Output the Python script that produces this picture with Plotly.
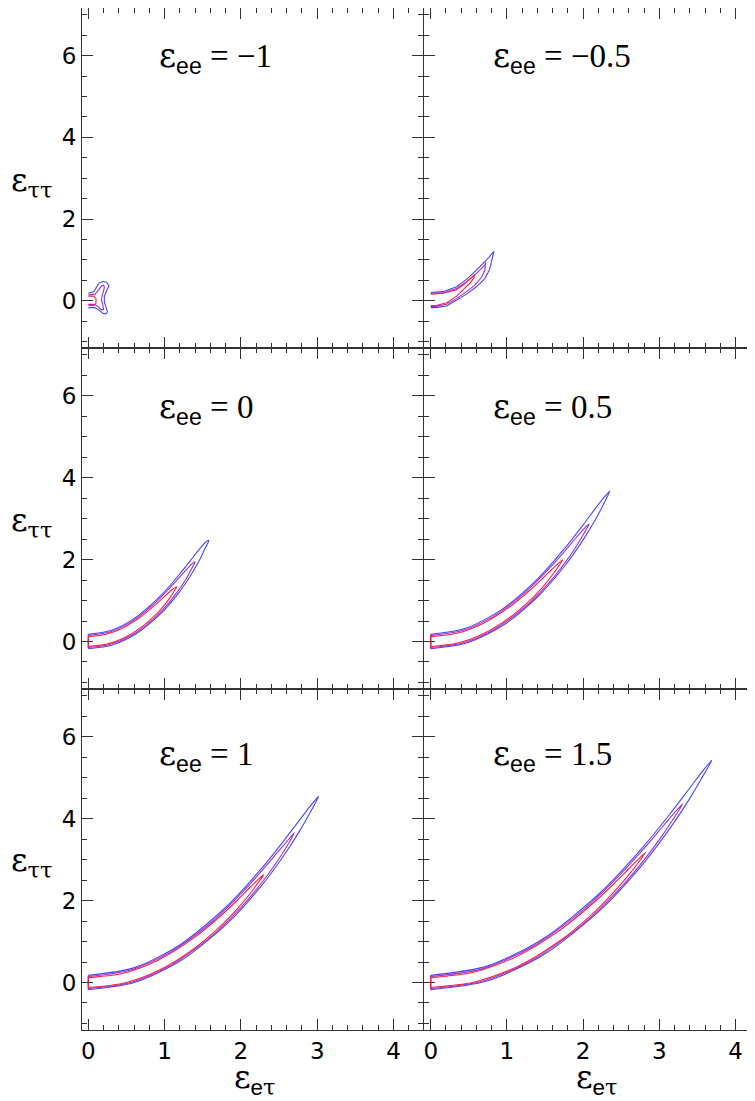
import plotly.graph_objects as go

# ---------------- data ----------------
EE_LABELS = ["\u22121", "\u22120.5", "0", "0.5", "1", "1.5"]
X_TICKS = [0, 1, 2, 3, 4]
Y_TICKS = [0, 2, 4, 6]

# eps_ee = -1 : small irregular contours
EEM1_BLUE_X = [0.0, 0.07, 0.11, 0.14, 0.19, 0.24, 0.27, 0.24, 0.21, 0.21, 0.23, 0.25, 0.23, 0.19, 0.14, 0.08, 0.0]
EEM1_BLUE_Y = [0.18, 0.22, 0.34, 0.43, 0.47, 0.45, 0.37, 0.24, 0.11, -0.03, -0.15, -0.27, -0.33, -0.31, -0.23, -0.17, -0.17]
EEM1_PURP_X = [0.0, 0.09, 0.14, 0.17, 0.20, 0.21, 0.19, 0.17, 0.19, 0.20, 0.17, 0.13, 0.08, 0.0]
EEM1_PURP_Y = [0.14, 0.16, 0.27, 0.36, 0.38, 0.32, 0.18, 0.03, -0.11, -0.22, -0.22, -0.15, -0.09, -0.09]
EEM1_RED_X = [0.0, 0.07, 0.10, 0.10, 0.07, 0.0]
EEM1_RED_Y = [0.11, 0.11, 0.05, -0.07, -0.12, -0.12]

# eps_ee = -0.5
EEM05_BLUE_X = [0, 0.16, 0.34, 0.47, 0.60, 0.73, 0.83, 0.80, 0.77, 0.71, 0.60, 0.47, 0.34, 0.21, 0.07, 0]
EEM05_BLUE_Y = [0.20, 0.22, 0.34, 0.52, 0.75, 0.99, 1.21, 0.99, 0.75, 0.54, 0.34, 0.16, 0.01, -0.13, -0.17, -0.17]
EEM05_PURP_X = [0, 0.16, 0.34, 0.47, 0.60, 0.71, 0.72, 0.71, 0.67, 0.58, 0.47, 0.34, 0.21, 0.07, 0]
EEM05_PURP_Y = [0.18, 0.19, 0.30, 0.46, 0.67, 0.87, 0.93, 0.75, 0.58, 0.38, 0.22, 0.05, -0.09, -0.14, -0.14]
EEM05_RED_X = [0, 0.16, 0.34, 0.45, 0.53, 0.58, 0.56, 0.51, 0.42, 0.34, 0.21, 0.07, 0]
EEM05_RED_Y = [0.16, 0.18, 0.27, 0.42, 0.56, 0.64, 0.54, 0.42, 0.26, 0.11, -0.05, -0.12, -0.12]

# eps_ee = 0 : x along the band, upper edge (last value = tip), lower edge
EE0_BLUE_X = [0, 0.316, 0.632, 0.948, 1.185, 1.343, 1.454, 1.533, 1.58]
EE0_BLUE_UP = [0.175, 0.283, 0.602, 1.119, 1.619, 1.988, 2.251, 2.418, 2.47]
EE0_BLUE_LO = [-0.175, -0.083, 0.196, 0.679, 1.189, 1.620, 1.977, 2.282]
EE0_PURP_X = [0, 0.28, 0.56, 0.84, 1.05, 1.19, 1.288, 1.358, 1.40]
EE0_PURP_UP = [0.148, 0.231, 0.480, 0.882, 1.273, 1.560, 1.765, 1.896, 1.95]
EE0_PURP_LO = [-0.148, -0.075, 0.148, 0.530, 0.933, 1.272, 1.553, 1.792]
EE0_RED_X = [0, 0.232, 0.464, 0.696, 0.87, 0.986, 1.067, 1.125, 1.16]
EE0_RED_UP = [0.12, 0.177, 0.344, 0.616, 0.882, 1.077, 1.215, 1.304, 1.34]
EE0_RED_LO = [-0.12, -0.069, 0.086, 0.352, 0.632, 0.867, 1.061, 1.228]

# eps_ee = 0.5
EE05_BLUE_X = [0, 0.47, 0.94, 1.41, 1.763, 1.998, 2.162, 2.280, 2.35]
EE05_BLUE_UP = [0.175, 0.330, 0.792, 1.544, 2.285, 2.843, 3.252, 3.531, 3.68]
EE05_BLUE_LO = [-0.175, -0.036, 0.386, 1.106, 1.857, 2.477, 2.980, 3.397]
EE05_PURP_X = [0, 0.416, 0.832, 1.248, 1.56, 1.768, 1.914, 2.018, 2.08]
EE05_PURP_UP = [0.148, 0.268, 0.626, 1.213, 1.791, 2.227, 2.547, 2.766, 2.87]
EE05_PURP_LO = [-0.148, -0.038, 0.296, 0.863, 1.453, 1.941, 2.335, 2.662]
EE05_RED_X = [0, 0.346, 0.692, 1.038, 1.298, 1.471, 1.592, 1.678, 1.73]
EE05_RED_UP = [0.12, 0.202, 0.448, 0.850, 1.247, 1.546, 1.765, 1.915, 1.99]
EE05_RED_LO = [-0.12, -0.042, 0.190, 0.586, 0.997, 1.336, 1.613, 1.839]

# eps_ee = 1
EE1_BLUE_X = [0, 0.604, 1.208, 1.812, 2.265, 2.567, 2.778, 2.929, 3.02]
EE1_BLUE_UP = [0.175, 0.364, 0.930, 1.857, 2.775, 3.474, 3.992, 4.356, 4.55]
EE1_BLUE_LO = [-0.175, 0.000, 0.530, 1.427, 2.355, 3.116, 3.728, 4.226]
EE1_PURP_X = [0, 0.54, 1.08, 1.62, 2.025, 2.295, 2.484, 2.619, 2.70]
EE1_PURP_UP = [0.148, 0.299, 0.747, 1.485, 2.216, 2.774, 3.189, 3.481, 3.66]
EE1_PURP_LO = [-0.148, -0.007, 0.419, 1.139, 1.884, 2.492, 2.981, 3.379]
EE1_RED_X = [0, 0.46, 0.92, 1.38, 1.725, 1.955, 2.116, 2.231, 2.30]
EE1_RED_UP = [0.12, 0.228, 0.552, 1.084, 1.612, 2.016, 2.315, 2.526, 2.64]
EE1_RED_LO = [-0.12, -0.016, 0.294, 0.820, 1.364, 1.806, 2.163, 2.452]

# eps_ee = 1.5
EE15_BLUE_X = [0, 0.738, 1.476, 2.214, 2.768, 3.137, 3.395, 3.579, 3.69]
EE15_BLUE_UP = [0.175, 0.400, 1.070, 2.174, 3.271, 4.111, 4.740, 5.189, 5.43]
EE15_BLUE_LO = [-0.175, 0.036, 0.672, 1.748, 2.857, 3.759, 4.480, 5.061]
EE15_PURP_X = [0, 0.662, 1.324, 1.986, 2.483, 2.814, 3.045, 3.211, 3.31]
EE15_PURP_UP = [0.148, 0.327, 0.865, 1.749, 2.629, 3.305, 3.811, 4.174, 4.37]
EE15_PURP_LO = [-0.148, 0.023, 0.537, 1.407, 2.301, 3.027, 3.607, 4.074]
EE15_RED_X = [0, 0.564, 1.128, 1.692, 2.115, 2.397, 2.594, 2.735, 2.82]
EE15_RED_UP = [0.12, 0.249, 0.637, 1.276, 1.912, 2.401, 2.767, 3.030, 3.18]
EE15_RED_LO = [-0.12, 0.005, 0.381, 1.014, 1.666, 2.195, 2.617, 2.956]

# ---------------- styling ----------------
BLUE = "rgb(70,70,255)"
PURP = "rgb(160,50,190)"
RED = "rgb(255,30,70)"
AXC = "#333333"

OFF = 8  # page body margin: the figure starts at (8, 8) in the window
W, H = 747, 1093
ML, MR, MT, MB = 74, 0, 0, 71
PW, PH = W - ML - MR, H - MT - MB


def px2paper_x(px):
    return (px - OFF - ML) / PW


def px2paper_y(py):
    return (OFF + H - MB - py) / PH


fig = go.Figure()


def add_open(idx, xs, ys, color):
    fig.add_trace(go.Scatter(x=xs, y=ys, mode="lines", line=dict(color=color, width=1.1),
                             xaxis="x" + str(idx), yaxis="y" + str(idx), hoverinfo="skip",
                             showlegend=False))


def add_band(idx, xs, up, lo, color):
    n = len(lo)
    px = list(xs[:n]) + [xs[-1]] + list(reversed(xs[:n])) + [None, xs[0], xs[0]]
    py = list(lo) + [up[-1]] + list(reversed(up[:n])) + [None, up[0], lo[0]]
    fig.add_trace(go.Scatter(x=px, y=py, mode="lines",
                             line=dict(color=color, width=1.1, shape="spline", smoothing=0.8),
                             connectgaps=False, xaxis="x" + str(idx), yaxis="y" + str(idx),
                             hoverinfo="skip", showlegend=False))


add_open(1, EEM1_BLUE_X, EEM1_BLUE_Y, BLUE)
add_open(1, EEM1_PURP_X, EEM1_PURP_Y, PURP)
add_open(1, EEM1_RED_X, EEM1_RED_Y, RED)
add_open(2, EEM05_BLUE_X, EEM05_BLUE_Y, BLUE)
add_open(2, EEM05_PURP_X, EEM05_PURP_Y, PURP)
add_open(2, EEM05_RED_X, EEM05_RED_Y, RED)

bands = [
    (3, [(EE0_BLUE_X, EE0_BLUE_UP, EE0_BLUE_LO, BLUE), (EE0_PURP_X, EE0_PURP_UP, EE0_PURP_LO, PURP),
         (EE0_RED_X, EE0_RED_UP, EE0_RED_LO, RED)]),
    (4, [(EE05_BLUE_X, EE05_BLUE_UP, EE05_BLUE_LO, BLUE), (EE05_PURP_X, EE05_PURP_UP, EE05_PURP_LO, PURP),
         (EE05_RED_X, EE05_RED_UP, EE05_RED_LO, RED)]),
    (5, [(EE1_BLUE_X, EE1_BLUE_UP, EE1_BLUE_LO, BLUE), (EE1_PURP_X, EE1_PURP_UP, EE1_PURP_LO, PURP),
         (EE1_RED_X, EE1_RED_UP, EE1_RED_LO, RED)]),
    (6, [(EE15_BLUE_X, EE15_BLUE_UP, EE15_BLUE_LO, BLUE), (EE15_PURP_X, EE15_PURP_UP, EE15_PURP_LO, PURP),
         (EE15_RED_X, EE15_RED_UP, EE15_RED_LO, RED)]),
]
for idx, lst in bands:
    for xs, up, lo, col in lst:
        add_band(idx, xs, up, lo, col)

# ---------------- axes ----------------
LEFT_DOM = [0, px2paper_x(423)]
RIGHT_DOM = [px2paper_x(424), 1]
ROW_DOMS = [[px2paper_y(348), 1], [px2paper_y(689), px2paper_y(348)], [0, px2paper_y(689)]]
X_RANGE_L = [-0.083, 4.387]
X_RANGE_R = [-0.088, 4.256]
Y_RANGE = [-1.16, 7.17]

tickfont = dict(family="DejaVu Sans, Liberation Sans, sans-serif", size=23, color="black")
layout = {}
for r in range(3):
    for c in range(2):
        idx = r * 2 + c + 1
        xa = dict(domain=LEFT_DOM if c == 0 else RIGHT_DOM,
                  range=X_RANGE_L if c == 0 else X_RANGE_R,
                  anchor="y" + str(idx), showgrid=False, zeroline=False,
                  tickmode="array", tickvals=X_TICKS, ticktext=[str(v) for v in X_TICKS],
                  ticks="inside", ticklen=11, tickwidth=1, tickcolor=AXC,
                  showline=True, linecolor=AXC, linewidth=1, mirror="allticks",
                  minor=dict(ticks="inside", ticklen=5, tickwidth=1, tickcolor=AXC,
                             tickmode="linear", tick0=0, dtick=0.2, showgrid=False),
                  showticklabels=(r == 2), tickfont=tickfont, fixedrange=True)
        ya = dict(domain=ROW_DOMS[r], range=Y_RANGE, anchor="x" + str(idx),
                  showgrid=False, zeroline=False,
                  tickmode="array", tickvals=Y_TICKS, ticktext=[str(v) for v in Y_TICKS],
                  ticks="inside", ticklen=11, tickwidth=1, tickcolor=AXC,
                  showline=True, linecolor=AXC, linewidth=1,
                  mirror="allticks" if c == 0 else False,
                  minor=dict(ticks="inside", ticklen=5, tickwidth=1, tickcolor=AXC,
                             tickmode="linear", tick0=0, dtick=0.5, showgrid=False),
                  showticklabels=(c == 0), tickfont=tickfont, fixedrange=True)
        sfx = "" if idx == 1 else str(idx)
        layout["xaxis" + sfx] = xa
        layout["yaxis" + sfx] = ya

EPS = '<span style="font-family:DejaVu Serif">\u03b5</span>'
SANS = "font-family:Liberation Sans"
annotations = []
label_x = [px2paper_x(157), px2paper_x(491)]
label_y = [57.5, 409, 755]
for r in range(3):
    for c in range(2):
        k = r * 2 + c
        txt = EPS + '<sub><span style="' + SANS + '">ee</span></sub> = ' + EE_LABELS[k]
        annotations.append(dict(text=txt, xref="paper", yref="paper", x=label_x[c],
                                y=px2paper_y(label_y[r]), xanchor="left", yanchor="middle",
                                showarrow=False,
                                font=dict(family="Liberation Serif, Times New Roman, serif", size=33,
                                          color="black")))
for r, pyc in enumerate([182, 522, 862]):
    annotations.append(dict(text=EPS + '<sub><span style="font-family:DejaVu Serif">\u03c4\u03c4</span></sub>',
                            xref="paper", yref="paper", x=px2paper_x(31), y=px2paper_y(pyc),
                            xanchor="center", yanchor="middle", showarrow=False,
                            font=dict(family="DejaVu Serif, serif", size=32, color="black")))
for cx in [254, 596]:
    annotations.append(dict(text=EPS + '<sub><span style="' + SANS + '">e</span>'
                                 '<span style="font-family:DejaVu Serif">\u03c4</span></sub>',
                            xref="paper", yref="paper", x=px2paper_x(cx), y=px2paper_y(1079),
                            xanchor="center", yanchor="middle", showarrow=False,
                            font=dict(family="DejaVu Serif, serif", size=32, color="black")))

fig.update_layout(width=W, height=H, margin=dict(l=ML, r=MR, t=MT, b=MB, pad=0),
                  paper_bgcolor="white", plot_bgcolor="white", showlegend=False,
                  annotations=annotations, **layout)

fig.write_html("out.html", config={"displayModeBar": False})
